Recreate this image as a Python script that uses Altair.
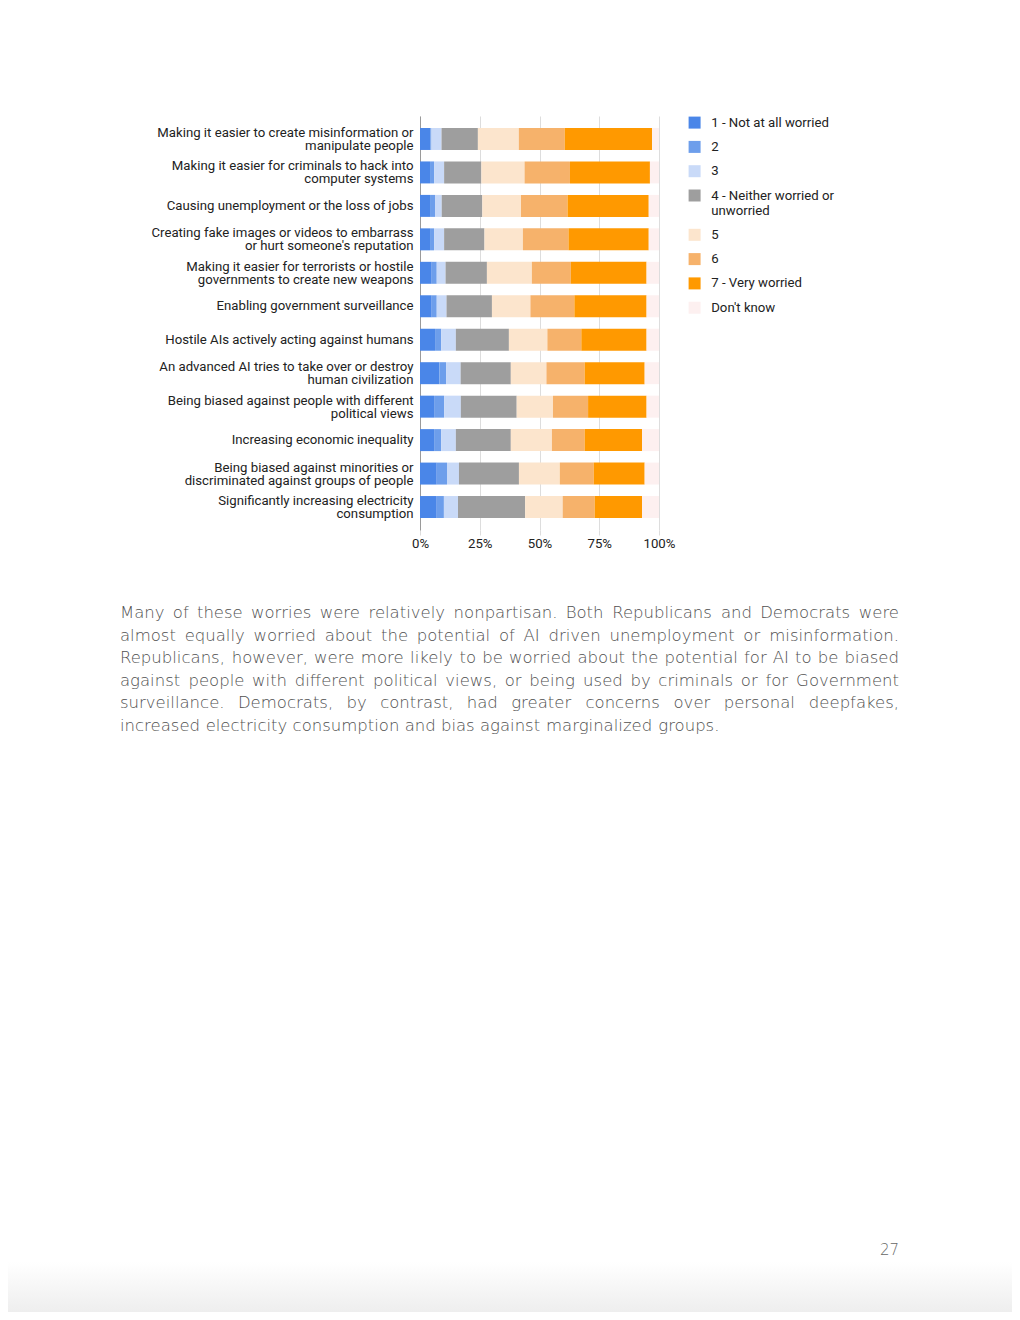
import altair as alt
import pandas as pd

categories = [
    "Making it easier to create misinformation or|manipulate people",
    "Making it easier for criminals to hack into|computer systems",
    "Causing unemployment or the loss of jobs",
    "Creating fake images or videos to embarrass|or hurt someone's reputation",
    "Making it easier for terrorists or hostile|governments to create new weapons",
    "Enabling government surveillance",
    "Hostile AIs actively acting against humans",
    "An advanced AI tries to take over or destroy|human civilization",
    "Being biased against people with different|political views",
    "Increasing economic inequality",
    "Being biased against minorities or|discriminated against groups of people",
    "Significantly increasing electricity|consumption",
]

levels = [
    "1 - Not at all worried",
    "2",
    "3",
    "4 - Neither worried or unworried",
    "5",
    "6",
    "7 - Very worried",
    "Don't know",
]

level_colors = ["#4a86e8", "#6d9eeb", "#c9daf8", "#9e9e9e",
                "#fce5cd", "#f6b26b", "#ff9900", "#fdf0f0"]

# percentage shares per level, one value per category (top to bottom)
not_at_all = [4.3, 4.2, 4.2, 4.2, 4.9, 4.9, 6.3, 8.1, 5.9, 5.9, 7.0, 7.0]
level_2 = [0.5, 1.7, 2.1, 1.7, 2.1, 2.1, 2.6, 2.8, 4.2, 3.0, 4.3, 3.0]
level_3 = [4.2, 4.2, 2.8, 4.2, 3.7, 4.1, 6.1, 6.1, 7.0, 6.1, 5.0, 5.9]
neither = [15.2, 15.6, 17.0, 16.9, 17.3, 19.0, 22.2, 21.0, 23.4, 23.0, 25.1, 28.1]
level_5 = [17.1, 18.1, 16.2, 16.1, 18.8, 16.1, 16.1, 14.9, 15.2, 17.2, 17.1, 15.7]
level_6 = [19.2, 19.0, 19.5, 19.1, 16.3, 18.4, 14.2, 16.0, 14.7, 13.7, 14.2, 13.4]
very_worried = [36.5, 33.5, 34.0, 33.6, 31.7, 30.2, 27.3, 25.1, 24.5, 24.0, 21.3, 19.8]
dont_know = [2.9, 3.8, 4.3, 4.3, 5.2, 5.2, 5.2, 6.0, 5.2, 7.1, 6.0, 7.1]

series = [not_at_all, level_2, level_3, neither, level_5, level_6, very_worried, dont_know]

x_ticks = [0, 0.25, 0.5, 0.75, 1]

paragraph_lines = [
    "Many of these worries were relatively nonpartisan. Both Republicans and Democrats were",
    "almost equally worried about the potential of AI driven unemployment or misinformation.",
    "Republicans, however, were more likely to be worried about the potential for AI to be biased",
    "against people with different political views, or being used by criminals or for Government",
    "surveillance. Democrats, by contrast, had greater concerns over personal deepfakes,",
    "increased electricity consumption and bias against marginalized groups.",
]
page_number = "27"

rows = []
for li, (lev, vals) in enumerate(zip(levels, series)):
    for cat, v in zip(categories, vals):
        rows.append({"category": cat, "level": lev, "value": v, "rank": li})
df = pd.DataFrame(rows)

FONT = "Roboto"
FS = 13.2

# ---- justified paragraph layout (text typesetting helper) ----
PARA_FONT = "DejaVu Sans"
PARA_SIZE = 16.5
PARA_LEFT = -300      # relative to plot origin (page x = 120)
PARA_WIDTH = 779      # page x 120 .. 899
PARA_TOP = 489
PARA_LEADING = 22.6
_adv = {
    " ": 651, ",": 651, ".": 651, "'": 563,
    "a": 1255, "b": 1300, "c": 1126, "d": 1300, "e": 1260, "f": 721, "g": 1300,
    "h": 1298, "i": 569, "j": 569, "k": 1186, "l": 569, "m": 1995, "n": 1298,
    "o": 1253, "p": 1300, "q": 1300, "r": 842, "s": 1067, "t": 803, "u": 1298,
    "v": 1212, "w": 1675, "x": 1212, "y": 1212, "z": 1075,
    "A": 1401, "B": 1405, "D": 1577, "G": 1595, "I": 604, "M": 1767, "R": 1423,
}


def word_width(w):
    return sum(_adv.get(ch, 1250) for ch in w) / 2048 * PARA_SIZE


words_rows = []
for li, line in enumerate(paragraph_lines):
    words = line.split(" ")
    last = li == len(paragraph_lines) - 1
    widths = [word_width(w) for w in words]
    if last:
        gap = _adv[" "] / 2048 * PARA_SIZE
    else:
        gap = (PARA_WIDTH - sum(widths)) / (len(words) - 1)
    cur = 0.0
    for wi, (w, ww) in enumerate(zip(words, widths)):
        is_end = (not last) and wi == len(words) - 1
        words_rows.append({
            "word": w,
            "px": PARA_LEFT + (PARA_WIDTH if is_end else cur),
            "py": PARA_TOP + li * PARA_LEADING,
            "end": 1 if is_end else 0,
        })
        cur += ww + gap
words_df = pd.DataFrame(words_rows)

bars = alt.Chart(df).mark_bar().encode(
    y=alt.Y(
        "category:N",
        sort=categories,
        scale=alt.Scale(paddingInner=0.343, paddingOuter=0.358),
        axis=alt.Axis(
            title=None,
            labelExpr="split(datum.label, '|')",
            labelFont=FONT,
            labelFontSize=FS,
            labelColor="#222222",
            labelLineHeight=13,
            labelPadding=7,
            labelLimit=400,
            labelOffset={"condition": {"test": "indexof(datum.value, '|') >= 0", "value": -6}, "value": 0},
            ticks=False,
            domain=True,
            domainColor="#9a9a9a",
            grid=False,
        ),
    ),
    x=alt.X(
        "value:Q",
        stack="normalize",
        scale=alt.Scale(domain=[0, 1]),
        axis=alt.Axis(
            title=None,
            values=x_ticks,
            format=".0%",
            labelFont=FONT,
            labelFontSize=FS,
            labelColor="#222222",
            labelPadding=2,
            labelFlush=False,
            grid=True,
            gridColor="#dddddd",
            domain=False,
            ticks=True,
            tickColor="#dddddd",
            tickSize=5,
        ),
    ),
    color=alt.Color(
        "level:N",
        sort=levels,
        scale=alt.Scale(domain=levels, range=level_colors),
        legend=alt.Legend(
            title=None,
            orient="none",
            legendX=268,
            legendY=0,
            symbolType="square",
            symbolSize=144,
            symbolStrokeWidth=0,
            labelFont=FONT,
            labelFontSize=FS,
            labelColor="#222222",
            labelOffset=10,
            labelLimit=300,
            rowPadding=10.3,
            padding=0,
            labelExpr="datum.label == '4 - Neither worried or unworried' ? ['4 - Neither worried or', 'unworried'] : datum.label",
        ),
    ),
    order=alt.Order("rank:Q"),
)

para_base = alt.Chart(words_df).encode(
    x=alt.X("px:Q", scale=None, axis=None),
    y=alt.Y("py:Q", scale=None, axis=None),
    text="word:N",
)
para_style = dict(baseline="top", font=PARA_FONT, fontWeight=200,
                  fontSize=PARA_SIZE, color="#505050")
para_left = para_base.mark_text(align="left", **para_style).transform_filter("datum.end == 0")
para_right = para_base.mark_text(align="right", **para_style).transform_filter("datum.end == 1")

dummy = pd.DataFrame({"k": [0]})

page_no = alt.Chart(dummy).mark_text(
    text=page_number,
    align="right",
    baseline="middle",
    font=PARA_FONT,
    fontWeight=200,
    fontSize=15,
    color="#666666",
).encode(x=alt.value(479), y=alt.value(1134))

fade = alt.Chart(dummy).mark_rect(
    color=alt.LinearGradient(
        gradient="linear",
        stops=[alt.GradientStop(color="#ffffff", offset=0),
               alt.GradientStop(color="#eeeeee", offset=1)],
        x1=0, x2=0, y1=0, y2=1,
    )
).encode(x=alt.value(-412), x2=alt.value(592), y=alt.value(1146), y2=alt.value(1196))

chart = alt.layer(fade, bars, para_left, para_right, page_no).properties(
    width=239,
    height=414,
    autosize=alt.AutoSizeParams(type="none"),
    padding={"left": 412, "top": 108, "right": 353, "bottom": 782},
    background="white",
).configure_view(stroke=None)

chart.save("out.html", embed_options={"renderer": "svg", "actions": False})
